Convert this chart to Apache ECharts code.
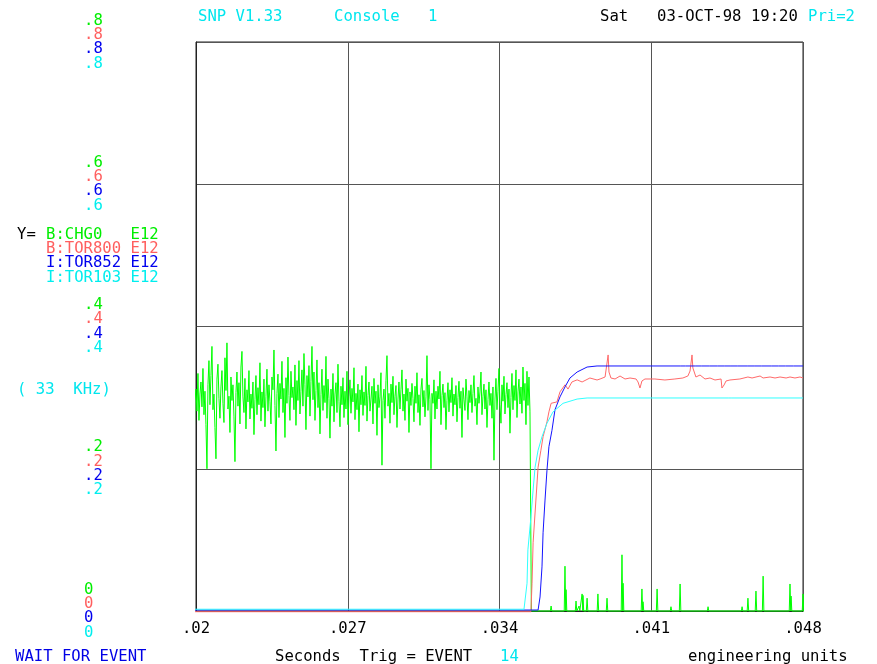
<!DOCTYPE html>
<html>
<head>
<meta charset="utf-8">
<script src="https://cdn.jsdelivr.net/npm/echarts@6/dist/echarts.min.js"></script>
<style>
  html, body { margin: 0; padding: 0; background: #fff; }
  #chart { width: 877px; height: 664px; }
</style>
</head>
<body>
<div id="chart"></div>
<script>
// ---- axis ticks -------------------------------------------------------
const xTickLabels = ['.02', '.027', '.034', '.041', '.048'];
const yTickLabels = ['0', '.2', '.4', '.6', '.8'];

// ---- channels ---------------------------------------------------------
const channelNames = ['B:CHG0   E12', 'B:TOR800 E12', 'I:TOR852 E12', 'I:TOR103 E12'];
const channelColors = ['#00ee00', '#ff5f5f', '#0000ee', '#00eeee'];
const lineColors = ['#00ff00', '#ff6a6a', '#1414ff', '#30ffff'];

// B:CHG0 before the beam drops out: uniformly sampled readings (seconds, E12)
const chgStart = 0.01986;
const chgStep = 0.00004613;
const chgNoise = [
  .377,.219,.296,.312,.281,.334,.268,.305,.322,.287,
  .341,.276,.309,.262,.200,.318,.352,.290,.331,.372,
  .283,.305,.258,.214,.326,.347,.299,.271,.315,.338,
  .292,.265,.356,.310,.377,.284,.302,.251,.329,.296,
  .318,.274,.210,.307,.336,.288,.321,.263,.343,.365,
  .301,.279,.327,.256,.311,.294,.338,.270,.305,.285,
  .322,.248,.297,.331,.276,.314,.290,.349,.267,.308,
  .286,.326,.259,.302,.340,.281,.318,.295,.263,.329,
  .311,.367,.289,.225,.306,.333,.272,.320,.298,.351,
  .279,.313,.244,.328,.292,.357,.303,.268,.337,.300,
  .315,.283,.346,.261,.324,.296,.352,.277,.309,.339,
  .288,.362,.318,.255,.331,.301,.345,.274,.323,.372,
  .297,.336,.268,.310,.353,.286,.321,.249,.304,.340,
  .282,.317,.293,.358,.271,.326,.299,.243,.312,.288,
  .334,.266,.305,.321,.279,.347,.295,.259,.316,.290,
  .328,.272,.309,.284,.337,.262,.301,.325,.278,.313,
  .294,.342,.269,.306,.283,.319,.252,.311,.290,.331,
  .275,.308,.289,.344,.267,.303,.322,.281,.298,.316,
  .263,.327,.292,.309,.247,.318,.286,.301,.335,.205,
  .296,.312,.271,.324,.359,.288,.306,.264,.319,.293,
  .330,.276,.302,.317,.258,.298,.322,.284,.311,.339,
  .281,.305,.268,.326,.295,.313,.251,.308,.289,.320,
  .299,.266,.316,.292,.335,.279,.304,.261,.312,.327,
  .287,.310,.273,.301,.359,.282,.318,.297,.200,.306,
  .292,.325,.270,.309,.284,.316,.298,.337,.262,.303,
  .319,.286,.307,.255,.296,.321,.280,.311,.293,.328,
  .274,.305,.290,.317,.266,.300,.323,.285,.309,.244,
  .314,.297,.282,.326,.301,.269,.310,.293,.318,.279,
  .306,.331,.288,.299,.262,.315,.292,.308,.336,.276,
  .302,.319,.284,.311,.258,.297,.322,.289,.306,.271,
  .315,.212,.298,.327,.283,.309,.341,.290,.264,.318,
  .295,.330,.277,.304,.321,.286,.312,.250,.300,.334,
  .283,.317,.296,.339,.272,.308,.326,.291,.315,.278,
  .343,.296,.320,.262,.337,.289,.329,.281
];
// B:CHG0 after the drop: zero with isolated single-sample spikes [s, E12]
const chgDropTime = 0.03547;
const chgEndTime = 0.048;
const chgSpikes = [
  [.03638,.007],[.03702,.063],[.03707,.030],[.03753,.014],[.03767,.007],
  [.03781,.024],[.03785,.022],[.03804,.018],[.03854,.024],[.03896,.018],
  [.03965,.079],[.03970,.039],[.04057,.031],[.04062,.013],[.04127,.031],
  [.04191,.006],[.04233,.038],[.04362,.006],[.04519,.006],[.04546,.018],
  [.04583,.028],[.04616,.049],[.04740,.038],[.04745,.021],[.04800,.024]
];

// B:TOR800 [s, E12]
const tor800 = [
  [.01986,-.001],[.03545,-.001],[.03550,.039],[.03555,.096],[.03568,.156],
  [.03578,.202],[.03591,.226],[.03601,.245],[.03619,.266],[.03628,.280],
  [.03638,.292],[.03665,.294],[.03679,.308],[.03702,.318],[.03716,.312],
  [.03734,.322],[.03758,.325],[.03781,.322],[.03817,.3276],[.03850,.3248],
  [.03864,.3262],[.03887,.329],[.03896,.3276],[.03901,.360],[.03905,.336],
  [.03914,.3276],[.03933,.3262],[.03956,.3304],[.03979,.3262],[.04002,.3276],
  [.04030,.3262],[.04039,.322],[.04048,.3135],[.04057,.3234],[.04071,.3262],
  [.04117,.3262],[.04163,.3248],[.04209,.3262],[.04246,.3276],[.04269,.3304],
  [.04279,.3374],[.04288,.360],[.04292,.3417],[.04306,.329],[.04325,.3318],
  [.04348,.3262],[.04371,.3276],[.04394,.3248],[.04422,.3262],[.04426,.3135],
  [.04436,.3178],[.04445,.3234],[.04463,.3248],[.04509,.3262],[.04546,.329],
  [.04565,.3276],[.04602,.3304],[.04616,.3276],[.04648,.329],[.04671,.3276],
  [.04694,.329],[.04722,.3276],[.04740,.329],[.04763,.3276],[.04786,.329],
  [.04800,.3276]
];

// I:TOR852 [s, E12]; ripple samples on the flat top listed separately
const tor852 = [
  [.01986,.0014],[.03578,.0014],[.03587,.0197],[.03596,.062],[.03601,.110],
  [.03610,.156],[.03619,.198],[.03628,.231],[.03642,.254],[.03656,.283],
  [.03679,.301],[.03702,.315],[.03725,.3276],[.03758,.336],[.03804,.343],
  [.03850,.3445]
];
const tor852Flat = 0.3445;
const tor852Ripple = [
  [.04237,.3466],[.04262,.3466],[.04285,.3462],[.04306,.3466],[.04334,.3462],
  [.04371,.3466],[.04408,.3462],[.04440,.3466],[.04467,.3462],[.04500,.3466],
  [.04546,.3462],[.04578,.3466],[.04611,.3466],[.04657,.3462],[.04690,.3466],
  [.04722,.3462],[.04760,.3466]
];
const tor852End = 0.048;

// I:TOR103 [s, E12]
const tor103 = [
  [.01986,.0025],[.03513,.0025],[.03527,.039],[.03531,.086],[.03545,.132],
  [.03555,.170],[.03564,.202],[.03578,.226],[.03596,.245],[.03619,.264],
  [.03647,.280],[.03693,.292],[.03758,.298],[.03804,.2995],[.04458,.2995],
  [.04463,.301],[.04472,.2995],[.04800,.2995]
];

// ---- helpers ----------------------------------------------------------
const X_ORIGIN = 0.02;          // seconds at the left edge of the frame
const toMs = t => (t - X_ORIGIN) * 1000;
const Y_STEP = 0.2;
const FONT_FAMILY = '"DejaVu Sans Mono", "Liberation Mono", monospace';
const FONT_SIZE = 15.6;
const font = FONT_SIZE + 'px ' + FONT_FAMILY;
const HALF_SAMPLE = 0.0000346;

// a lone sample sitting on a flat baseline
function pulse(pts, t, v, base) {
  pts.push([toMs(t - HALF_SAMPLE), base], [toMs(t), v], [toMs(t + HALF_SAMPLE), base]);
}

function chgSeriesData() {
  const pts = chgNoise.map((v, i) => [toMs(chgStart + i * chgStep), v]);
  pts.push([toMs(chgDropTime), 0]);
  chgSpikes.forEach(([t, v]) => pulse(pts, t, v, 0));
  pts.push([toMs(chgEndTime), 0]);
  return pts;
}
function tor852Data() {
  const pts = tor852.map(([t, v]) => [toMs(t), v]);
  tor852Ripple.forEach(([t, v]) => pulse(pts, t, v, tor852Flat));
  pts.push([toMs(tor852End), tor852Flat]);
  return pts;
}
const asMs = arr => arr.map(([t, v]) => [toMs(t), v]);

const seriesData = [chgSeriesData(), asMs(tor800), tor852Data(), asMs(tor103)];

// ---- text placed around the frame ---------------------------------------
function txt(text, x, y, fill, align) {
  return {
    type: 'text', x, y, silent: true,
    style: { text, fill, font, align: align || 'left', verticalAlign: 'middle' }
  };
}
const graphics = [
  txt('SNP V1.33', 198, 17, '#00e6ee'),
  txt('Console   1', 334, 17, '#00e6ee'),
  txt('Sat', 600, 17, '#000'),
  txt('03-OCT-98 19:20', 657, 17, '#000'),
  txt('Pri=2', 808, 17, '#00e6ee'),
  txt('Y=', 17, 235, '#000'),
  txt('( 33  KHz)', 17, 390, '#00e6ee'),
  txt('WAIT FOR EVENT', 15, 657, '#0000e6'),
  txt('Seconds  Trig = EVENT', 275, 657, '#000'),
  txt('14', 500, 657, '#00e6ee'),
  txt('engineering units', 688, 657, '#000')
];
channelNames.forEach((name, i) => {
  graphics.push(txt(name, 46, 235 + i * 14.2, channelColors[i]));
});

// ---- chart ------------------------------------------------------------
const rich = {};
['g', 'r', 'b', 'c'].forEach((k, i) => {
  rich[k] = { color: channelColors[i], fontFamily: FONT_FAMILY, fontSize: FONT_SIZE, lineHeight: 14.3 };
});

const chart = echarts.init(document.getElementById('chart'), null, { renderer: 'canvas' });
chart.setOption({
  animation: false,
  backgroundColor: '#fff',
  grid: { left: 196, top: 42, width: 607, height: 569, show: true, borderColor: '#222', borderWidth: 1, backgroundColor: 'transparent' },
  xAxis: {
    type: 'value', min: 0, max: 28, interval: 7,
    axisLine: { show: true, lineStyle: { color: '#222', width: 1 } },
    axisTick: { show: false },
    splitLine: { show: true, lineStyle: { color: '#555', width: 1 } },
    axisLabel: {
      margin: 10, color: '#000', fontFamily: FONT_FAMILY, fontSize: FONT_SIZE,
      formatter: v => xTickLabels[Math.round(v / 7)] || ''
    }
  },
  yAxis: {
    type: 'value', min: 0, max: 0.8, interval: Y_STEP,
    axisLine: { show: true, lineStyle: { color: '#222', width: 1 } },
    axisTick: { show: false },
    splitLine: { show: true, lineStyle: { color: '#555', width: 1 } },
    axisLabel: {
      align: 'left', margin: 112, rich,
      formatter: v => {
        const s = yTickLabels[Math.round(v / Y_STEP)];
        return ['g', 'r', 'b', 'c'].map(k => '{' + k + '|' + s + '}').join('\n');
      }
    }
  },
  series: seriesData.map((data, i) => ({
    type: 'line', data, clip: false, showSymbol: false, symbol: 'none',
    lineStyle: { color: lineColors[i], width: 1 },
    emphasis: { disabled: true }, z: 3 + i
  })),
  graphic: graphics
});
</script>
</body>
</html>
